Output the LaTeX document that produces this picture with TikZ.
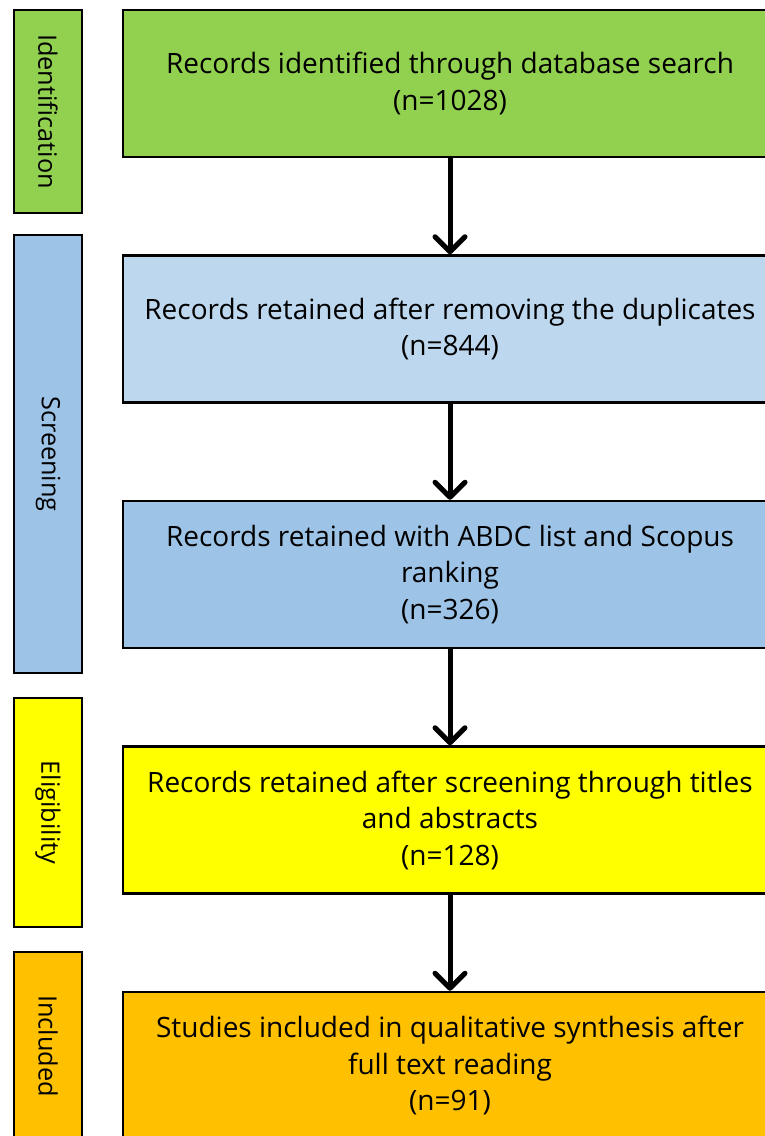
\documentclass[tikz,border=0pt]{standalone}
\usepackage{fontspec}
\setmainfont{Open Sans}
\usetikzlibrary{shapes,arrows.meta,positioning}
\definecolor{idgreen}{HTML}{92D050}
\definecolor{duppale}{HTML}{BDD7EE}
\definecolor{scrblue}{HTML}{9DC3E6}
\definecolor{eliyellow}{HTML}{FFFF00}
\definecolor{incorange}{HTML}{FFC000}
\tikzstyle{stage} = [rectangle, draw=black, line width=2.5pt, inner sep=0pt, minimum height=68pt, rotate=-90, font=\fontsize{25.3}{30}\selectfont]
\tikzstyle{record} = [rectangle, draw=black, line width=2.5pt, inner sep=0pt, minimum width=654pt, minimum height=147pt, align=center, font=\fontsize{28}{36.5}\selectfont]
\tikzstyle{arrow} = [line width=5pt, -{Straight Barb[round, length=15pt, width=30pt]}]

\begin{document}
\begin{tikzpicture}[x=1pt, y=1pt, node distance=98.5pt]
    \useasboundingbox (0,0) rectangle (764,-1136);

        % stages on the left
        \node (ident) [stage, fill=idgreen, minimum width=203pt] at (48,-111.5) {Identification};
        \node (screen) [stage, fill=scrblue, minimum width=438pt] at (48,-454) {Screening};
        \node (elig) [stage, fill=eliyellow, minimum width=229pt] at (48,-812.5) {Eligibility};
        \node (incl) [stage, fill=incorange, minimum width=188pt] at (48,-1046) {Included};

        % records
        \node (found) [record, fill=idgreen] at (450,-83.5) {Records identified through database search\\(n=1028)};
        \node (dedup) [record, fill=duppale, below of=found, yshift=-147pt] {Records retained after removing the duplicates\\(n=844)};
        \node (ranked) [record, fill=scrblue, below of=dedup, yshift=-147pt] {Records retained with ABDC list and Scopus\\ranking\\(n=326)};
        \node (screened) [record, fill=eliyellow, below of=ranked, yshift=-147pt] {Records retained after screening through titles\\and abstracts\\(n=128)};
        \node (kept) [record, fill=incorange, below of=screened, yshift=-147pt] {Studies included in qualitative synthesis after\\full text reading\\(n=91)};

        \draw [arrow] (found) -- (dedup);
        \draw [arrow] (dedup) -- (ranked);
        \draw [arrow] (ranked) -- (screened);
        \draw [arrow] (screened) -- (kept);

    \end{tikzpicture}
\end{document}
